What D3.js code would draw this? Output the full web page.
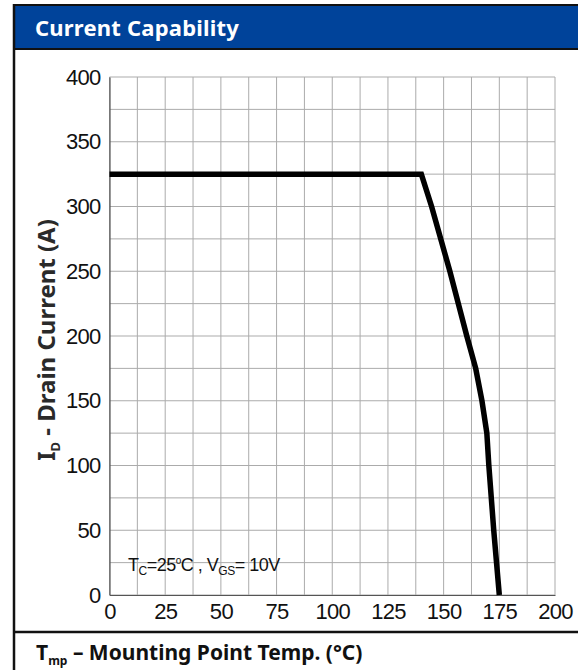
<!DOCTYPE html>
<html>
<head>
<meta charset="utf-8">
<script src="https://cdn.jsdelivr.net/npm/d3@7"></script>
<style>
  html, body { margin: 0; padding: 0; background: #fff; }
  svg { display: block; }
</style>
</head>
<body>
<svg id="chart" width="578" height="670"></svg>
<script>
// Derating curve: drain current vs mounting point temperature
const tempC = [0, 140, 144.6, 152.8, 160.4, 164.4, 167.2, 169.4, 170.3, 172.5, 175];
const drainA = [325, 325, 300, 250, 200, 175, 150, 125, 100, 50, 0];

const xTicks = [0, 25, 50, 75, 100, 125, 150, 175, 200];
const yTicks = [0, 50, 100, 150, 200, 250, 300, 350, 400];
const xGrid = d3.range(0, 200.1, 12.5);
const yGrid = d3.range(0, 400.1, 25);

const titleText = "Current Capability";

const svg = d3.select("#chart");

// Panel frame and title band
svg.append("rect").attr("x", 14).attr("y", 5).attr("width", 600).attr("height", 44)
  .attr("fill", "#00439a").attr("stroke", "#111").attr("stroke-width", 2);
svg.append("line").attr("x1", 14).attr("x2", 14).attr("y1", 4).attr("y2", 670)
  .attr("stroke", "#111").attr("stroke-width", 2.5);
svg.append("line").attr("x1", 14).attr("x2", 578).attr("y1", 632).attr("y2", 632)
  .attr("stroke", "#111").attr("stroke-width", 2.5);

svg.append("text").attr("x", 35).attr("y", 36)
  .attr("fill", "#fff").attr("font-family", "Noto Sans, sans-serif")
  .attr("font-weight", "bold").attr("font-size", 22)
  .attr("letter-spacing", 0.2)
  .text(titleText);

// Plot scales
const x = d3.scaleLinear().domain([0, 200]).range([109.5, 555]);
const y = d3.scaleLinear().domain([0, 400]).range([595, 77]);

const plot = svg.append("g");

// Grid
plot.append("g").selectAll("line").data(xGrid).join("line")
  .attr("x1", d => x(d)).attr("x2", d => x(d))
  .attr("y1", y(0)).attr("y2", y(400))
  .attr("stroke", "#ababab").attr("stroke-width", 1);
plot.append("g").selectAll("line").data(yGrid).join("line")
  .attr("x1", x(0)).attr("x2", x(200))
  .attr("y1", d => y(d)).attr("y2", d => y(d))
  .attr("stroke", "#ababab").attr("stroke-width", 1);

// Axes
const tickFont = sel => sel.selectAll("text")
  .attr("font-family", "Liberation Sans, Arial, sans-serif")
  .attr("font-size", 22).attr("letter-spacing", -0.7).attr("fill", "#111");

const yAxis = d3.axisLeft(y).tickValues(yTicks).tickSize(0).tickPadding(9);
const yG = plot.append("g").attr("transform", `translate(${x(0)},0)`).call(yAxis);
yG.select(".domain").attr("stroke", "#555").attr("stroke-width", 1.2);
tickFont(yG);

const xAxis = d3.axisBottom(x).tickValues(xTicks).tickSize(0).tickPadding(8);
const xG = plot.append("g").attr("transform", `translate(0,${y(0)})`).call(xAxis);
xG.select(".domain").attr("stroke", "#555").attr("stroke-width", 1.2);
tickFont(xG);

// Curve
const line = d3.line().x((d, i) => x(tempC[i])).y(d => y(d));
plot.append("path").datum(drainA)
  .attr("d", line).attr("fill", "none")
  .attr("stroke", "#000").attr("stroke-width", 5.5)
  .attr("stroke-linejoin", "miter");

// Test condition note
const note = plot.append("text").attr("x", 128).attr("y", 571)
  .attr("font-family", "Liberation Sans, Arial, sans-serif")
  .attr("font-size", 18).attr("letter-spacing", -0.5).attr("fill", "#111");
note.append("tspan").text("T");
note.append("tspan").attr("font-size", 12).attr("dy", 4).text("C");
note.append("tspan").attr("dy", -4).text("=25");
note.append("tspan").attr("font-size", 10).attr("dy", -7).text("o");
note.append("tspan").attr("dy", 7).text("C , V");
note.append("tspan").attr("font-size", 12).attr("dy", 4).text("GS");
note.append("tspan").attr("dy", -4).text("= 10V");

// Y axis title
const yTitle = svg.append("text")
  .attr("transform", "translate(55,340) rotate(-90)")
  .attr("text-anchor", "middle")
  .attr("font-family", "Noto Sans, sans-serif").attr("font-weight", "bold")
  .attr("font-size", 24).attr("fill", "#2a2a2a");
yTitle.append("tspan").text("I");
yTitle.append("tspan").attr("font-size", 13).attr("dy", 5).text("D");
yTitle.append("tspan").attr("dy", -5).text(" - Drain Current (A)");

// X axis title
const xTitle = svg.append("text").attr("x", 36).attr("y", 660)
  .attr("font-family", "Noto Sans, sans-serif").attr("font-weight", "bold")
  .attr("font-size", 21).attr("fill", "#111");
xTitle.append("tspan").text("T");
xTitle.append("tspan").attr("font-size", 12).attr("dy", 5).text("mp");
xTitle.append("tspan").attr("dy", -5).text(" – Mounting Point Temp.  (°C)");
</script>
</body>
</html>
